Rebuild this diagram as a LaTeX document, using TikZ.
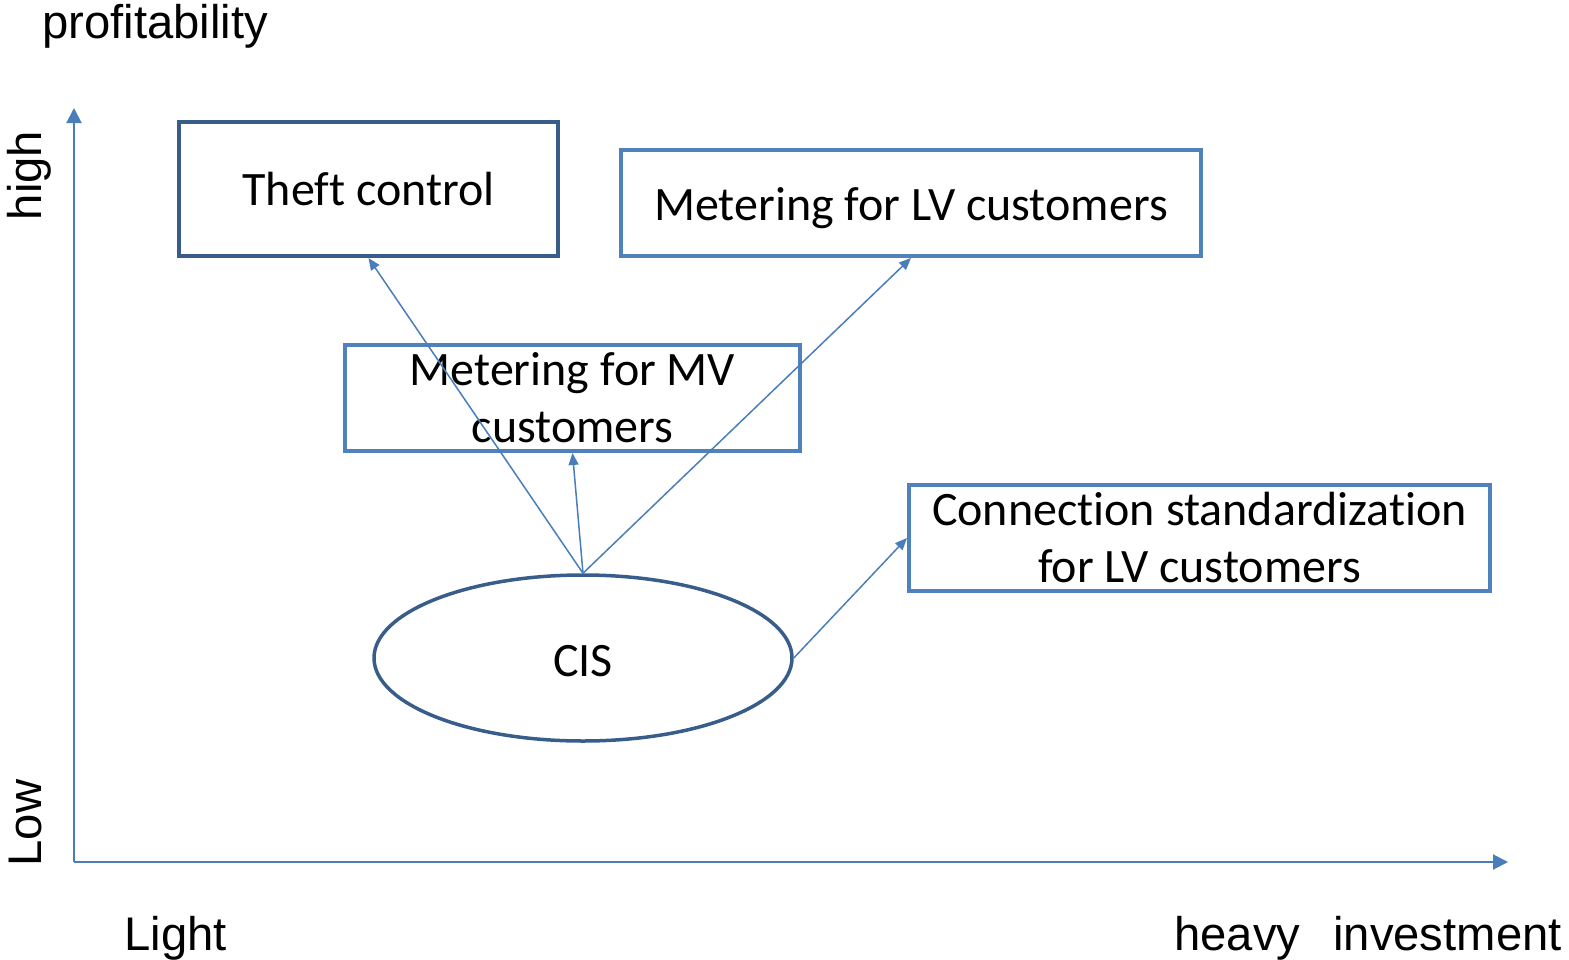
\documentclass[tikz,border=0pt]{standalone}
\usepackage{fontspec}
\setmainfont{Liberation Sans}
\newfontfamily\boxfont{Carlito}[Ligatures={NoCommon}]
\usetikzlibrary{arrows.meta,shapes.geometric}
\definecolor{accent}{HTML}{4F81BD}
\definecolor{accentdark}{HTML}{385D8A}
\definecolor{linkblue}{HTML}{4A7EBB}

\begin{document}
\begin{tikzpicture}[x=0.5pt,y=-0.5pt,
  box/.style={draw=accent, line width=2pt, rectangle, inner sep=0pt,
    font=\boxfont\fontsize{24}{28.5}\selectfont, align=center, text=black},
  darkbox/.style={box, draw=accentdark},
  axis/.style={draw=linkblue, line width=1pt, -{Triangle[length=7.5pt,width=7.5pt]}},
  link/.style={draw=linkblue, line width=0.75pt, -{Triangle[length=6pt,width=5pt]}},
  axislabel/.style={font=\fontsize{23.6}{28}\selectfont, inner sep=0pt, text=black}]

  \useasboundingbox (0,0) rectangle (1569,959);

  % axes
  \coordinate (origin) at (74,862);
  \coordinate (ytop) at (74,108);
  \coordinate (xend) at (1508,862);
  \draw[axis] (origin) -- (ytop);
  \draw[axis] (origin) -- (xend);

  % axis labels
  \node[axislabel, anchor=base west] (ylabel) at (42,38) {profitability};
  \node[axislabel, anchor=base, rotate=90] (high) at (41,175.5) {high};
  \node[axislabel, anchor=base, rotate=90] (low) at (41,823) {Low};
  \node[axislabel, anchor=base west] (light) at (124,950) {Light};
  \node[axislabel, anchor=base west] (heavy) at (1174,950) {heavy};
  \node[axislabel, anchor=base west] (invest) at (1333,950) {investment};

  % activities
  \node[darkbox, minimum width=189.5pt, minimum height=67pt] (theft) at (368.5,189) {Theft control};
  \node[box, minimum width=290pt, minimum height=53pt] (lv) at (911,203)
    {\raisebox{-2.5pt}[\height][\depth]{Metering for LV customers}};
  \node[box, minimum width=227.5pt, minimum height=53pt] (mv) at (572.5,398) {Metering for MV\\customers};
  \node[box, minimum width=290.5pt, minimum height=53pt] (conn) at (1199.5,538) {Connection standardization\\for LV customers};
  \node[ellipse, draw=accentdark, line width=1.75pt, minimum width=209pt, minimum height=83pt,
        inner sep=0pt, font=\boxfont\fontsize{24}{28.5}\selectfont] (cis) at (583,658)
    {\raisebox{-1.5pt}[\height][\depth]{CIS}};

  % links from CIS
  \draw[link] (cis.north) -- (theft.south);
  \draw[link] (cis.north) -- (mv.south);
  \draw[link] (cis.north) -- (lv.south);
  \draw[link] (cis.east) -- (conn.west);
\end{tikzpicture}
\end{document}
